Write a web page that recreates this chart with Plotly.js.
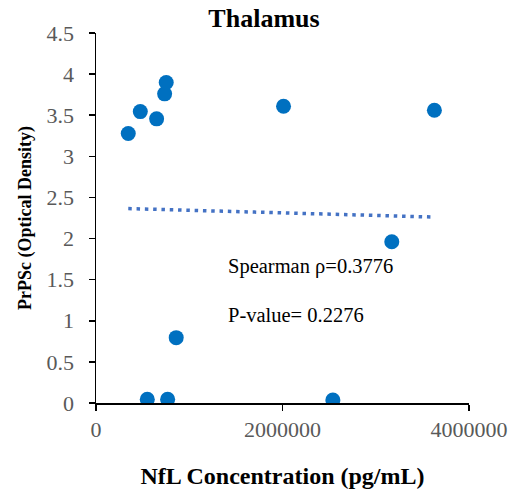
<!DOCTYPE html>
<html>
<head>
<meta charset="utf-8">
<script src="https://cdn.plot.ly/plotly-3.0.1.min.js"></script>
<style>html,body{margin:0;padding:0;background:#fff;}#chart{width:516px;height:500px;}</style>
</head>
<body>
<div id="chart"></div>
<script>
const nflConcentration = [346000, 475000, 650000, 736000, 753000, 2011000, 3629000, 550000, 768000, 860000, 2540000, 3172000];
const prpscDensity     = [3.277, 3.544, 3.456, 3.760, 3.898, 3.609, 3.560, 0.045, 0.045, 0.795, 0.037, 1.961];
const xTickValues = [0, 2000000, 4000000];
const xTickLabels = ['0', '2000000', '4000000'];
const yTickValues = [0, 0.5, 1, 1.5, 2, 2.5, 3, 3.5, 4, 4.5];
const yTickLabels = ['0', '0.5', '1', '1.5', '2', '2.5', '3', '3.5', '4', '4.5'];
const statLines = ['Spearman ρ=0.3776', 'P-value= 0.2276'];

// least-squares linear trendline from the data
const n = nflConcentration.length;
const mx = nflConcentration.reduce((a, b) => a + b, 0) / n;
const my = prpscDensity.reduce((a, b) => a + b, 0) / n;
let sxy = 0, sxx = 0;
for (let i = 0; i < n; i++) {
  sxy += (nflConcentration[i] - mx) * (prpscDensity[i] - my);
  sxx += (nflConcentration[i] - mx) ** 2;
}
const slope = sxy / sxx, intercept = my - slope * mx;
const xMin = Math.min(...nflConcentration), xMax = Math.max(...nflConcentration);
const trendX = [xMin, xMax];
const trendY = trendX.map(x => intercept + slope * x);

const serif = '"Liberation Serif", "Times New Roman", serif';

const data = [
  {
    x: trendX, y: trendY, type: 'scatter', mode: 'lines',
    line: {color: '#4472C4', width: 3.5, dash: '3.5px,4.8px'},
    hoverinfo: 'skip', showlegend: false
  },
  {
    x: nflConcentration, y: prpscDensity, type: 'scatter', mode: 'markers',
    marker: {color: '#0070C0', size: 15},
    showlegend: false
  }
];

const layout = {
  width: 516, height: 500,
  margin: {l: 96, r: 47, t: 33, b: 97},
  paper_bgcolor: '#ffffff', plot_bgcolor: '#ffffff',
  title: {text: 'Thalamus', font: {family: serif, size: 26, color: '#000', weight: 'bold'}, x: 264 / 516, xanchor: 'center', xref: 'container', y: 1 - 18 / 500, yanchor: 'middle'},
  xaxis: {
    range: [0, 4000000], tickvals: xTickValues, ticktext: xTickLabels,
    showgrid: false, zeroline: false, showline: true, linecolor: '#000', linewidth: 1.5,
    ticks: 'outside', ticklen: 6, tickwidth: 1.5, tickcolor: '#000',
    tickfont: {family: serif, size: 22, color: '#595959'},
    title: {text: 'NfL Concentration (pg/mL)', font: {family: serif, size: 24, color: '#000', weight: 'bold'}, standoff: 26},
    automargin: false
  },
  yaxis: {
    range: [0, 4.5], tickvals: yTickValues, ticktext: yTickLabels,
    showgrid: false, zeroline: false, showline: true, linecolor: '#000', linewidth: 1.5,
    ticks: 'outside', ticklen: 6, tickwidth: 1.5, tickcolor: '#000',
    ticklabelstandoff: 10,
    tickfont: {family: serif, size: 22, color: '#595959'},
    title: {text: 'PrPSc (Optical Density)', font: {family: serif, size: 18, color: '#000', weight: 'bold'}, standoff: 10},
    automargin: false
  },
  annotations: [
    {x: 1393000, y: 1.657, xref: 'x', yref: 'y', xanchor: 'left', yanchor: 'middle', text: statLines[0], showarrow: false, font: {family: serif, size: 20.5, color: '#000'}},
    {x: 1393000, y: 1.072, xref: 'x', yref: 'y', xanchor: 'left', yanchor: 'middle', text: statLines[1], showarrow: false, font: {family: serif, size: 20.5, color: '#000'}}
  ]
};

Plotly.newPlot('chart', data, layout, {displayModeBar: false, staticPlot: true});
</script>
</body>
</html>
